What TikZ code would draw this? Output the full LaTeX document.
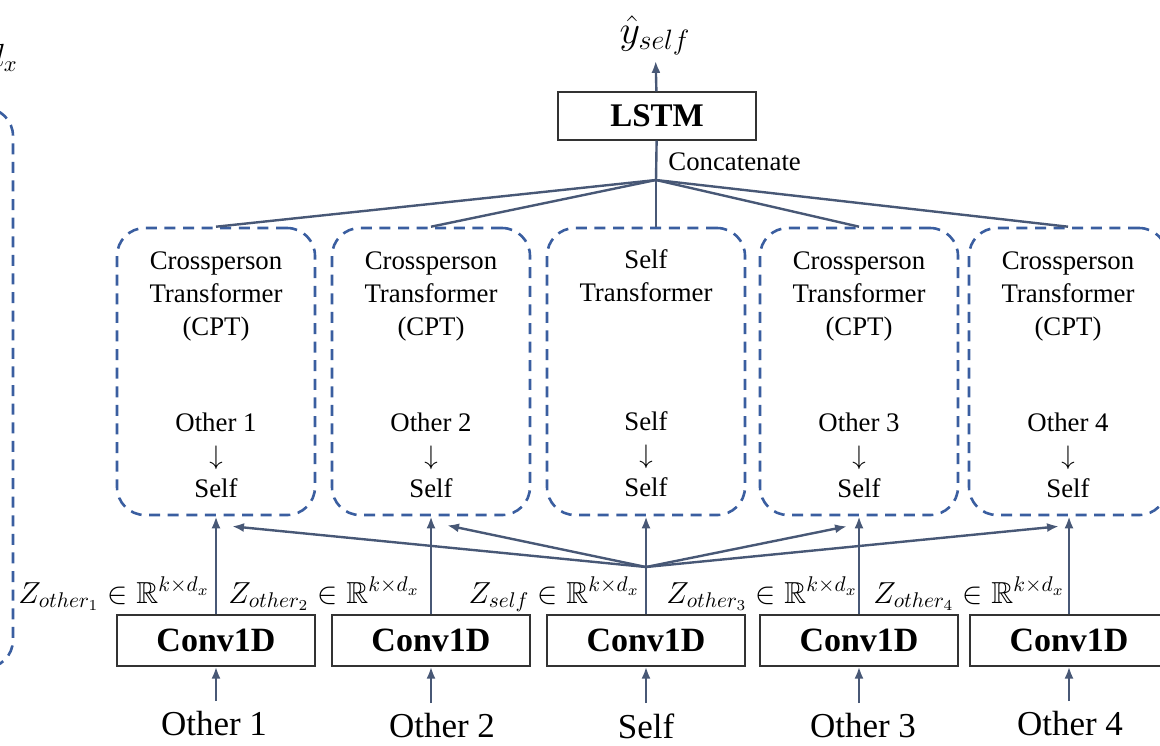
\RequirePackage{fix-cm}
\documentclass[tikz,border=0pt]{standalone}
\usepackage{fontspec}
\setmainfont{Liberation Serif}
\usepackage{amsmath}
\usepackage{amssymb}
\DeclareFontFamily{U}{msb}{}
\DeclareFontShape{U}{msb}{m}{n}{<-> msbm10}{}
\usepackage{xcolor}
\usetikzlibrary{arrows.meta, calc}
\definecolor{cline}{RGB}{72,88,118}
\definecolor{cdash}{RGB}{58,94,160}

\begin{document}
\begin{tikzpicture}[x=0.5pt, y=-0.5pt, >={Latex[length=6pt,width=4.5pt]},
	line/.style={draw=cline, line width=1.2pt},
	dashbox/.style={draw=cdash, line width=1.3pt, dash pattern=on 5.5pt off 3.8pt, rounded corners=14pt},
	cpt/.style={dashbox, minimum width=99pt, minimum height=143.5pt},
	box/.style={draw=black!80, line width=0.6pt, minimum width=99pt, minimum height=25.5pt, font=\fontsize{17}{20}\selectfont\bfseries},
	txt/.style={align=center, inner sep=0pt, anchor=north, font=\fontsize{13.4}{16.5}\selectfont},
	lab/.style={inner sep=0pt, anchor=base east, font=\fontsize{15.2}{18}\selectfont},
	inp/.style={anchor=north, inner sep=5pt, font=\fontsize{17.5}{20}\selectfont}]
	\useasboundingbox (0,0) rectangle (1160,745);

	% cut-off edge of the panel on the left
	\draw[dashbox] (-100,108) rectangle (13,668);
	\path (18,58) node[anchor=east, inner sep=0pt, font=\fontsize{16}{19}\selectfont] {$d_x$};

	% output
	\node[box, minimum height=24pt, font=\fontsize{16.5}{20}\selectfont\bfseries] (L) at (657,116) {LSTM};
	\node[anchor=base, inner sep=3pt, font=\fontsize{20}{24}\selectfont] (Y) at (655,43) {$\hat{y}_{self}$};
	\draw[line, ->] (L) -- (Y);
	\coordinate (J) at (656,180);
	\path (668,162) node[anchor=west, inner sep=0pt, font=\fontsize{13.4}{16}\selectfont] {Concatenate};

	% transformer blocks
	\foreach \x/\n/\i in {216/1/1, 431/2/2, 859/3/4, 1068/4/5} {
		\node[cpt] (T\i) at (\x,371.5) {};
		\path (\x,251) node[txt] {Crossperson\\Transformer\\(CPT)};
		\path (\x,412) node[txt] {Other \n\\$\downarrow$\\Self};
	}
	\node[cpt] (T3) at (646,371.5) {};
	\path (646,249) node[txt] {Self\\Transformer};
	\path (646,411) node[txt] {Self\\$\downarrow$\\Self};

	\draw[line] (L) -- (J);
	\draw[line] (J) -- (J |- T3.north);
	\foreach \i in {1,2,4,5}
		\draw[line] (J) -- (T\i.north);

	% encoders
	\foreach \x/\i in {216/1, 431/2, 646/3, 859/4, 1069/5}
		\node[box] (C\i) at (\x,640.5) {Conv1D};

	\path (210,603) node[lab] {$Z_{other_1} \in \mathbb{R}^{k\times d_x}$};
	\path (420,603) node[lab] {$Z_{other_2} \in \mathbb{R}^{k\times d_x}$};
	\path (640,603) node[lab] {$Z_{self} \in \mathbb{R}^{k\times d_x}$};
	\path (858,603) node[lab] {$Z_{other_3} \in \mathbb{R}^{k\times d_x}$};
	\path (1065,603) node[lab] {$Z_{other_4} \in \mathbb{R}^{k\times d_x}$};

	\foreach \i in {1,...,5}
		\draw[line, ->] (C\i) -- (C\i |- T\i.south);

	\coordinate (K) at (646,567);
	\draw[line, ->] (K) -- ($(T1.south)+(16,10)$);
	\draw[line, ->] (K) -- ($(T2.south)+(16,9)$);
	\draw[line, ->] (K) -- ($(T4.south)+(-12,10)$);
	\draw[line, ->] (K) -- ($(T5.south)+(-9,10)$);

	% inputs
	\node[inp] (O1) at (214,701) {Other 1};
	\node[inp] (O2) at (442,703) {Other 2};
	\node[inp] (O3) at (646,703) {Self};
	\node[inp] (O4) at (863,703) {Other 3};
	\node[inp] (O5) at (1070,701) {Other 4};
	\foreach \i in {1,...,5}
		\draw[line, ->] (O\i.north -| C\i) -- (C\i);
\end{tikzpicture}
\end{document}
